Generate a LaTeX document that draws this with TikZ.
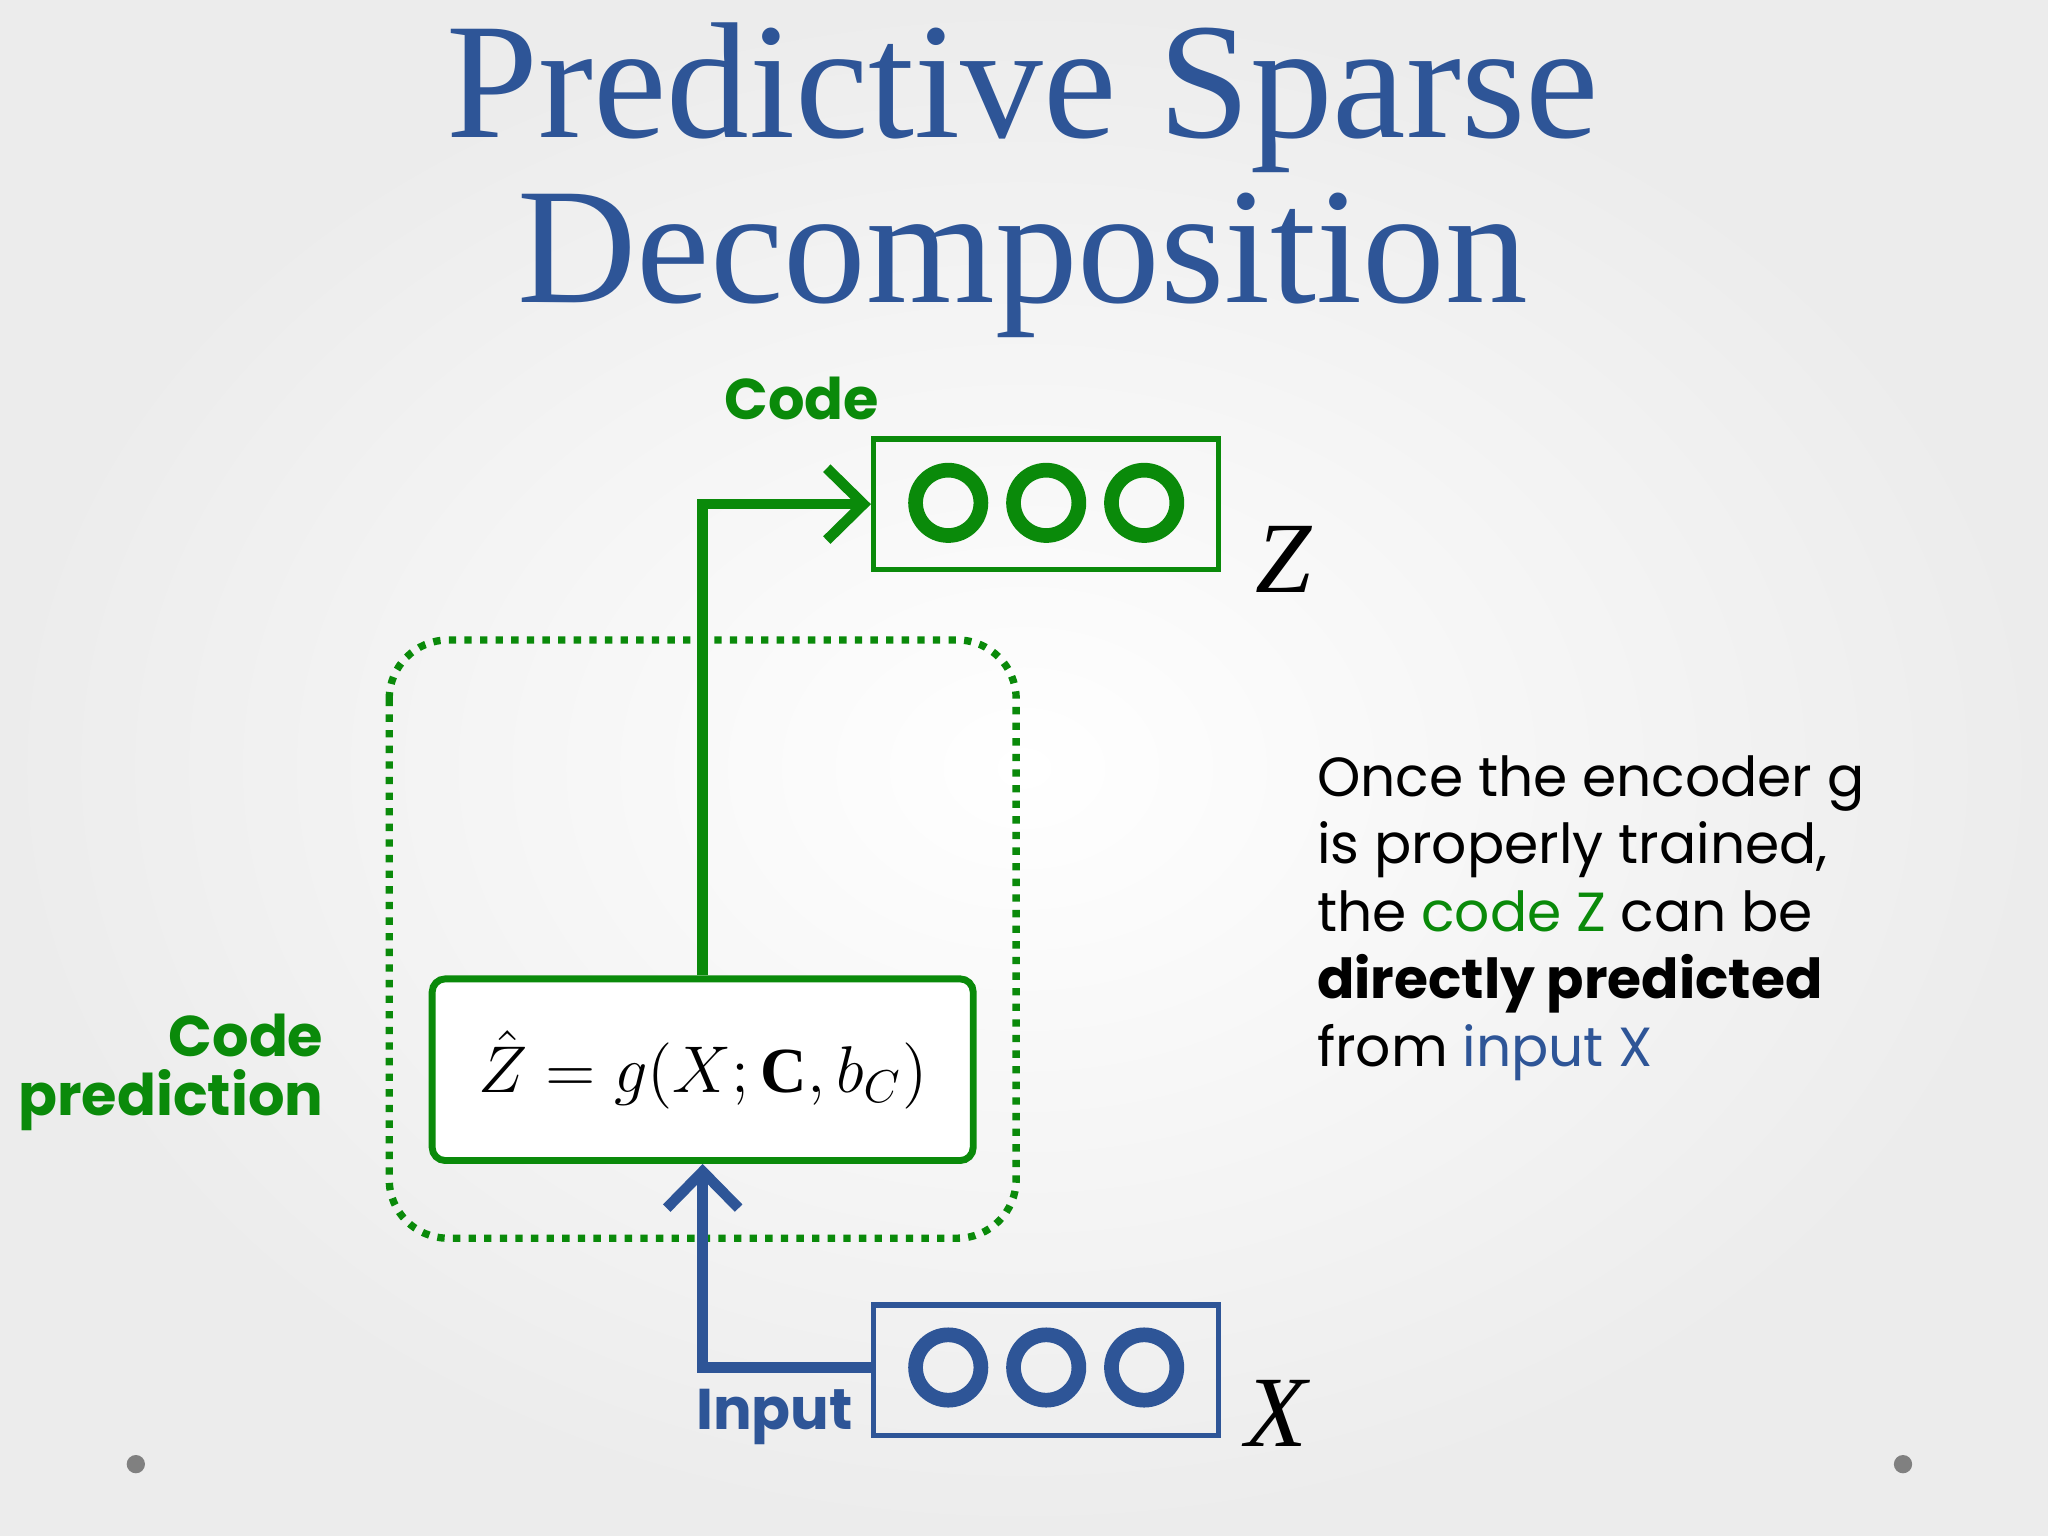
\documentclass[tikz,border=0pt]{standalone}
\usepackage{fontspec}
\setsansfont{Poppins}
\setmainfont{Liberation Serif}
\usetikzlibrary{arrows.meta}
\definecolor{tblue}{HTML}{2E5597}
\definecolor{tgreen}{HTML}{0A8A0A}
\definecolor{bg}{HTML}{ECECEC}
\begin{document}
\begin{tikzpicture}[x=0.01cm,y=-0.01cm,
  unitcircle/.style={circle,draw,line width=3.2pt,minimum size=0.5cm,inner sep=0pt},
  layerbox/.style={draw,line width=1.2pt,minimum width=2.64cm,minimum height=1cm,inner sep=0pt},
  conn/.style={line width=2.3pt,-{Straight Barb[length=0.28cm,width=0.55cm,line width=2.3pt]}},
  sanslabel/.style={font=\sffamily\bfseries\fontsize{12.5}{15}\selectfont}]
\shade[inner color=white,outer color=bg] (0,0) rectangle (1568,1176);
\useasboundingbox (0,0) rectangle (1568,1176);
\node[text=tblue,font=\fontsize{36}{40}\selectfont,align=center] (title) at (783,138) {Predictive Sparse\\[-4pt]Decomposition};
% top code layer
\node[layerbox,draw=tgreen] (zbox) at (801,386) {};
\foreach \i/\x in {1/726,2/801,3/876} \node[unitcircle,draw=tgreen] (z\i) at (\x,385) {};
\node[sanslabel,text=tgreen] (codelbl) at (614,305) {Code};
\node[font=\itshape\fontsize{22}{24}\selectfont] (zlbl) at (983,428) {Z};
% dotted region
\draw[tgreen,line width=1.6pt,dash pattern=on 1.6pt off 1.8pt,rounded corners=0.45cm] (298,490) rectangle (778,948);
% encoder
\node[draw=tgreen,line width=1.5pt,rounded corners=0.1cm,minimum width=4.14cm,minimum height=1.39cm,fill=white,font=\fontsize{14}{17}\selectfont] (enc) at (538,819) {$\hat{Z}=g\bigl(X;\mathbf{C},b_C\bigr)$};
\node[sanslabel,text=tgreen,align=right,anchor=east] (cplbl) at (260,821) {Code\\[-2pt]prediction};
\draw[conn,tgreen] (enc.north) -- (538,386) -- (zbox.west);
% input layer
\node[layerbox,draw=tblue] (xbox) at (801,1049) {};
\foreach \i/\x in {1/726,2/801,3/876} \node[unitcircle,draw=tblue] (x\i) at (\x,1047) {};
\node[font=\itshape\fontsize{22}{24}\selectfont] (xlbl) at (977,1082) {X};
\node[sanslabel,text=tblue] (inlbl) at (593,1085) {Input};
\draw[conn,tblue] (xbox.west |- 0,1047) -- (538,1047) -- (enc.south);
% text
\node[anchor=north west,align=left,font=\sffamily\fontsize{12}{14.7}\selectfont] (txt) at (996,566) {Once the encoder g\\is properly trained,\\the \textcolor{tgreen}{code Z} can be\\\textbf{directly predicted}\\from \textcolor{tblue}{input X}};
\fill[gray] (104,1121) circle (0.07cm) (1457,1121) circle (0.07cm);
\end{tikzpicture}
\end{document}
